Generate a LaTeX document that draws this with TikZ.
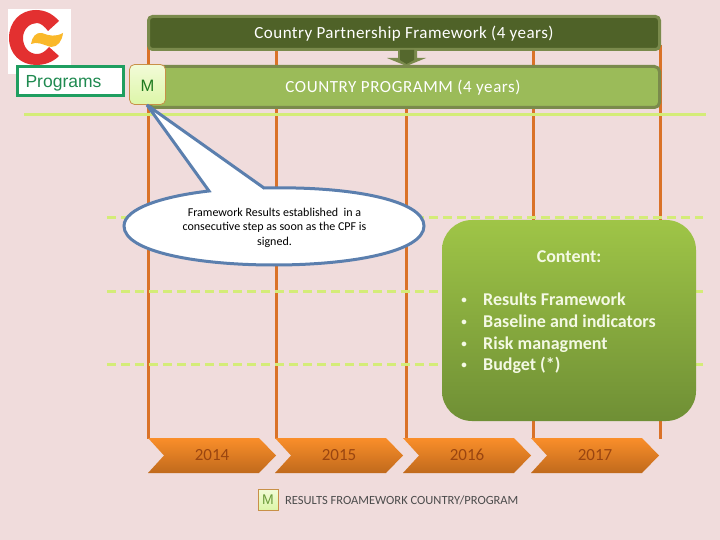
\documentclass[tikz,border=0pt]{standalone}
\usepackage{fontspec}
\setmainfont{Carlito}
\newfontfamily\arialf{Liberation Sans}
\newfontfamily\widef[LetterSpace=2.7]{Carlito}
\newfontfamily\widerf[LetterSpace=3.4]{Carlito}
\newcommand{\lowered}[2]{\raisebox{-#1pt}[0pt][0pt]{#2}}
\definecolor{bgc}{HTML}{F0DCDC}
\definecolor{orl}{HTML}{DA7228}
\definecolor{gl}{HTML}{D4EC78}
\definecolor{darkbar}{HTML}{4F6228}
\definecolor{barline}{HTML}{7A8A4C}
\definecolor{midbar}{HTML}{9BBB59}
\definecolor{calloutc}{HTML}{5B7FAE}
\definecolor{yeartxt}{HTML}{9A4510}
\definecolor{chevtop}{HTML}{FA8E2A}
\definecolor{chevbot}{HTML}{C06A1C}
\definecolor{mline}{HTML}{C89048}
\definecolor{mtop}{HTML}{F2FBD8}
\definecolor{mbot}{HTML}{DDF6A8}
\definecolor{mtext}{HTML}{1F7A1F}
\definecolor{ltext}{HTML}{6A9A3A}
\definecolor{logored}{HTML}{E33030}
\definecolor{logoyel}{HTML}{FAB82A}
\definecolor{progline}{HTML}{1F9E60}
\definecolor{progtext}{HTML}{1F8A50}
\definecolor{conttop}{HTML}{9FC547}
\definecolor{contbot}{HTML}{6F8F35}
\definecolor{conttext}{HTML}{F4F9E4}
\tikzset{
  x=1pt,y=-1pt,
  vline/.style={draw=orl,line width=3pt},
  gsolid/.style={draw=gl,line width=3pt},
  gdash/.style={draw=gl,line width=3pt,dash pattern=on 9pt off 5pt},
  chev/.style={top color=chevtop,bottom color=chevbot,draw=none},
  yearlab/.style={text=yeartxt,font=\fontsize{17}{17}\selectfont},
  mbox/.style={draw=mline,line width=0.8pt,rounded corners=#1,top color=mtop,bottom color=mbot,inner sep=0pt,text=mtext},
  barbox/.style={draw=barline,line width=3pt,inner sep=0pt,text=white,minimum width=511pt},
}
\begin{document}
\begin{tikzpicture}
\useasboundingbox (0,0) rectangle (720,540);
\fill[bgc] (0,0) rectangle (720,540);
% vertical lines
\foreach \n/\x in {a/148.5,b/276,c/406,d/533,e/660.5}{
  \coordinate (\n top) at (\x,45);
  \coordinate (\n bot) at (\x,439);
  \draw[vline] (\n top) -- (\n bot);
}
% green lines
\coordinate (g1l) at (24,115); \coordinate (g1r) at (706,115);
\coordinate (g2l) at (107,218); \coordinate (g2r) at (703,218);
\coordinate (g3l) at (107,291); \coordinate (g3r) at (703,291);
\coordinate (g4l) at (107,364); \coordinate (g4r) at (703,364);
\draw[gsolid] (g1l) -- (g1r);
\draw[gdash] (g2l) -- (g2r);
\draw[gdash] (g3l) -- (g3r);
\draw[gdash] (g4l) -- (g4r);
% logo
\fill[white] (8,9) rectangle (71,74);
\fill[logored] (59,21) .. controls (52,13) and (44,10) .. (36,10)
  .. controls (20,10) and (9,22) .. (9,38)
  .. controls (9,54) and (21,65) .. (36,65)
  .. controls (45,65) and (53,62) .. (59,56)
  -- (49,47) .. controls (45,52) and (41,54) .. (37,54)
  .. controls (29,54) and (23,47) .. (23,38)
  .. controls (23,29) and (30,23) .. (37,23)
  .. controls (41,23) and (45,27) .. (48,31) -- cycle;
\fill[logoyel] (31,44) .. controls (32,37) and (36,32) .. (42,33)
  .. controls (49,36) and (56,37) .. (63,33)
  .. controls (62,41) and (58,47) .. (51,47)
  .. controls (44,45) and (37,41) .. (31,44) -- cycle;
% programs
\node[draw=progline,line width=3pt,fill=white,minimum width=106pt,minimum height=29pt,inner sep=0pt,text=progtext,font=\arialf\fontsize{17.5}{18}\selectfont] (prog) at (70.5,81) {\hspace{-14pt}\lowered{6.5}{Programs}};
% bars
\node[barbox,fill=darkbar,rounded corners=4pt,minimum height=33pt,font=\widef\fontsize{17}{17}\selectfont] (cpf) at (404,33) {\lowered{5.5}{Country Partnership Framework (4 years)}};
\node[barbox,fill=midbar,rounded corners=5pt,minimum height=41pt,font=\widerf\fontsize{17}{17}\selectfont] (cp) at (404,87) {\hspace{-2pt}\lowered{5.5}{COUNTRY PROGRAMM (4 years)}};
% arrow
\fill[barline] (398,50) -- (398,58) -- (387,58) -- (406.5,66) -- (426,58) -- (417,58) -- (417,50) -- cycle;
\fill[darkbar!85!barline] (400,50) -- (400,60) -- (406.5,64) -- (414,60) -- (414,50) -- cycle;
% M
\node[mbox=5pt,minimum width=36pt,minimum height=40pt,font=\arialf\fontsize{16.5}{16.5}\selectfont] (m) at (147.5,84.5) {\lowered{7}{M}};
% callout
\coordinate (tip) at (147,105);
\path[draw=calloutc,line width=3pt,fill=white,line join=miter,miter limit=3]
  (tip) -- (264,188)
  .. controls (350,186) and (424,200) .. (424,226)
  .. controls (424,252) and (350,265) .. (274,265)
  .. controls (198,265) and (124,252) .. (124,226)
  .. controls (124,208) and (165,196) .. (209,191) -- cycle;
\node[align=center,text=black,font=\fontsize{12}{14.5}\selectfont] (note) at (274.5,227.5) {Framework Results established\ \ in a\\consecutive step as soon as the CPF is\\signed.};
% content
\node[draw=none,rounded corners=30pt,top color=conttop,bottom color=contbot,minimum width=254pt,minimum height=201pt,inner sep=0pt] (content) at (569,320.5) {};
\node[text=conttext,font=\bfseries\fontsize{18}{18}\selectfont] (ctitle) at (569,256.5) {Content:};
\foreach \n/\y/\t in {i/305/Results Framework,ii/327/Baseline and indicators,iii/349/Risk managment,iv/370/Budget (*)}{
  \node[anchor=base west,inner sep=0pt,text=conttext,font=\bfseries\fontsize{18}{18}\selectfont] (b\n) at (483,\y) {\t};
  \node[anchor=base,inner sep=0pt,text=conttext,font=\bfseries\fontsize{11}{11}\selectfont] (d\n) at (464,\y-2) {•};
}
% chevrons
\foreach \n/\x/\cx/\yr in {1/148/212/2014,2/275/339/2015,3/403/467/2016,4/531/595/2017}{
  \path[chev] (\x,438) -- ++(111,0) -- ++(17,17.5) -- ++(-17,17.5) -- ++(-111,0) -- ++(16,-17.5) -- cycle;
  \node[yearlab] (y\n) at (\cx,455) {\lowered{5.5}{\yr}};
}
% legend
\node[mbox=0pt,minimum width=20pt,minimum height=21pt,text=ltext,font=\arialf\fontsize{14}{14}\selectfont] (lm) at (268,499.5) {M};
\node[anchor=west,inner sep=0pt,text=black!70,font=\fontsize{12.5}{13}\selectfont] (lt) at (285,500.5) {RESULTS FROAMEWORK COUNTRY/PROGRAM};
\end{tikzpicture}
\end{document}
